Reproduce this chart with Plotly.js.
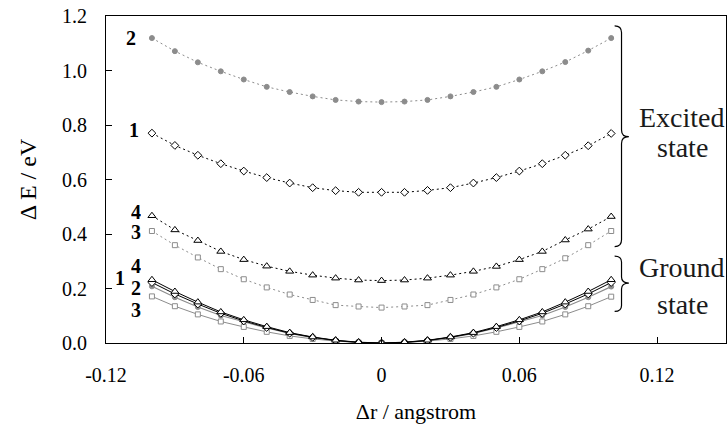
<!DOCTYPE html>
<html>
<head>
<meta charset="utf-8">
<script src="https://cdn.plot.ly/plotly-3.0.1.min.js"></script>
<style>html,body{margin:0;padding:0;background:#fff;}#chart{width:727px;height:430px;}</style>
</head>
<body>
<div id="chart"></div>
<script>
// ---- data ----
const dr = [-0.10, -0.09, -0.08, -0.07, -0.06, -0.05, -0.04, -0.03, -0.02, -0.01, 0.00,
            0.01, 0.02, 0.03, 0.04, 0.05, 0.06, 0.07, 0.08, 0.09, 0.10];

// excited state
const excited2 = [1.119, 1.071, 1.030, 0.997, 0.967, 0.940, 0.921, 0.905, 0.892, 0.886, 0.884,
                  0.886, 0.892, 0.905, 0.921, 0.940, 0.967, 0.997, 1.031, 1.073, 1.119];
const excited1 = [0.770, 0.725, 0.689, 0.658, 0.631, 0.607, 0.587, 0.570, 0.559, 0.553, 0.553,
                  0.553, 0.560, 0.570, 0.587, 0.607, 0.631, 0.658, 0.689, 0.724, 0.769];
const excited4 = [0.467, 0.415, 0.376, 0.336, 0.306, 0.282, 0.263, 0.249, 0.238, 0.231, 0.229,
                  0.231, 0.238, 0.249, 0.263, 0.281, 0.306, 0.336, 0.378, 0.418, 0.464];
const excited3 = [0.411, 0.359, 0.314, 0.271, 0.234, 0.204, 0.178, 0.158, 0.139, 0.134, 0.130,
                  0.134, 0.139, 0.158, 0.178, 0.204, 0.234, 0.271, 0.311, 0.359, 0.411];

// ground state
const ground4 = [0.232, 0.189, 0.150, 0.114, 0.085, 0.060, 0.038, 0.022, 0.010, 0.003, 0.000,
                 0.003, 0.010, 0.022, 0.038, 0.060, 0.085, 0.114, 0.150, 0.189, 0.232];
const ground1 = [0.222, 0.180, 0.143, 0.109, 0.081, 0.057, 0.036, 0.021, 0.009, 0.002, 0.000,
                 0.002, 0.009, 0.021, 0.036, 0.057, 0.081, 0.109, 0.143, 0.180, 0.222];
const ground2 = [0.208, 0.168, 0.132, 0.101, 0.078, 0.055, 0.035, 0.020, 0.009, 0.002, 0.000,
                 0.002, 0.009, 0.020, 0.035, 0.055, 0.078, 0.101, 0.132, 0.168, 0.207];
const ground3 = [0.171, 0.135, 0.105, 0.079, 0.059, 0.041, 0.026, 0.015, 0.007, 0.002, 0.000,
                 0.002, 0.007, 0.015, 0.026, 0.041, 0.059, 0.079, 0.105, 0.135, 0.170];

const xTickVals = [-0.12, -0.06, 0, 0.06, 0.12];
const xTickText = ["-0.12", "-0.06", "0", "0.06", "0.12"];

// curve labels: [text, x, y]
const excitedLabels = [["2", -0.109, 1.122], ["1", -0.108, 0.785], ["4", -0.107, 0.484], ["3", -0.107, 0.411]];
const groundLabels  = [["4", -0.107, 0.283], ["1", -0.114, 0.240], ["2", -0.107, 0.203], ["3", -0.107, 0.122]];

// ---- styling ----
const BLACK = "#000000";
const GRAY = "#8c8c8c";
const SERIF = "Liberation Serif";

function tr(y, symbol, mcolor, lcolor, dash, fill, lw) {
  return {
    x: dr, y: y, type: "scatter", mode: "lines+markers",
    line: {color: lcolor, width: lw || 1, dash: dash},
    marker: {symbol: symbol, size: symbol.indexOf("triangle") === 0 ? 7 : (symbol === "diamond" ? 6 : 5),
             color: fill || "#ffffff", line: {color: mcolor, width: 1}},
    showlegend: false, hoverinfo: "skip"
  };
}

const DOT = "2px,3px";
const data = [
  tr(excited2, "circle", GRAY, GRAY, DOT, GRAY),
  tr(excited1, "diamond", BLACK, BLACK, DOT),
  tr(excited3, "square", GRAY, GRAY, DOT),
  tr(excited4, "triangle-up", BLACK, BLACK, DOT),
  tr(ground3, "square", GRAY, GRAY, "solid"),
  tr(ground2, "circle", GRAY, GRAY, "solid", GRAY, 1.2),
  tr(ground1, "diamond", BLACK, BLACK, "solid"),
  tr(ground4, "triangle-up", BLACK, BLACK, "solid")
];

function brace(x0, x1, x2, yt, ym, yb, r) {
  return `M ${x0},${yt} Q ${x1},${yt} ${x1},${yt - r} L ${x1},${ym + r} Q ${x1},${ym} ${x2},${ym} ` +
         `Q ${x1},${ym} ${x1},${ym - r} L ${x1},${yb + r} Q ${x1},${yb} ${x0},${yb}`;
}

const annotations = [];
excitedLabels.concat(groundLabels).forEach(function (l) {
  annotations.push({x: l[1], y: l[2], xref: "x", yref: "y", text: "<b>" + l[0] + "</b>",
    showarrow: false, xanchor: "center", yanchor: "middle", height: 17,
    font: {family: SERIF, size: 20, color: BLACK}});
});
[["Excited", 0.826], ["state", 0.716], ["Ground", 0.277], ["state", 0.142]].forEach(function (t) {
  annotations.push({x: 0.131, y: t[1], xref: "x", yref: "y", text: t[0], showarrow: false,
    xanchor: "center", yanchor: "middle", font: {family: SERIF, size: 28, color: "#1a1a1a"}});
});

const layout = {
  width: 727, height: 430,
  margin: {l: 106, r: 1, t: 16, b: 87},
  paper_bgcolor: "#ffffff", plot_bgcolor: "#ffffff",
  font: {family: SERIF, color: BLACK},
  xaxis: {
    range: [-0.12, 0.15], showgrid: false, zeroline: false,
    showline: true, mirror: true, linecolor: BLACK, linewidth: 1,
    ticks: "inside", ticklen: 6, tickcolor: BLACK,
    tickvals: xTickVals, ticktext: xTickText,
    tickfont: {family: SERIF, size: 20, color: BLACK},
    ticklabelstandoff: 14,
    title: {text: "Δr / angstrom", font: {family: SERIF, size: 22, color: BLACK}, standoff: 18}
  },
  yaxis: {
    range: [0, 1.2], showgrid: false, zeroline: false,
    showline: true, mirror: true, linecolor: BLACK, linewidth: 1,
    ticks: "inside", ticklen: 6, tickcolor: BLACK,
    dtick: 0.2, tick0: 0, tickformat: ".1f",
    tickfont: {family: SERIF, size: 20, color: BLACK},
    ticklabelstandoff: 14,
    title: {text: "Δ E / eV", font: {family: SERIF, size: 24, color: BLACK}, standoff: 18}
  },
  shapes: [
    {type: "path", xref: "x", yref: "y", path: brace(0.1015, 0.1045, 0.1077, 1.164, 0.757, 0.354, 0.025),
     line: {color: BLACK, width: 1.2}},
    {type: "path", xref: "x", yref: "y", path: brace(0.1015, 0.1045, 0.1077, 0.319, 0.220, 0.116, 0.022),
     line: {color: BLACK, width: 1.2}}
  ],
  annotations: annotations
};

Plotly.newPlot("chart", data, layout, {staticPlot: true, displayModeBar: false});
</script>
</body>
</html>
